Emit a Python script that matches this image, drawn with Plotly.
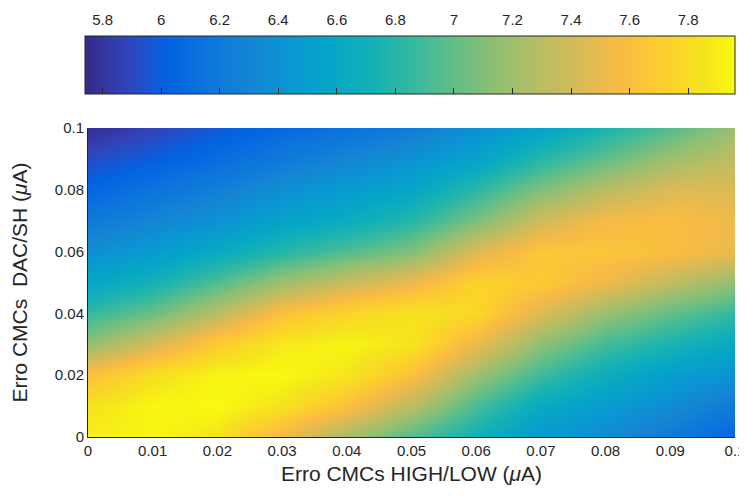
import plotly.graph_objects as go

# Grid coordinates (μA)
x_vals = [0, 0.01, 0.02, 0.03, 0.04, 0.05, 0.06, 0.07, 0.08, 0.09, 0.1]
y_vals = [0, 0.01, 0.02, 0.03, 0.04, 0.05, 0.06, 0.07, 0.08, 0.09, 0.1]

# Values, one list per y row (y = 0 ... 0.1)
z_y000 = [7.90, 7.93, 7.85, 7.52, 7.22, 6.95, 6.70, 6.45, 6.35, 6.20, 6.05]
z_y001 = [7.84, 7.94, 7.95, 7.84, 7.62, 7.30, 6.92, 6.62, 6.48, 6.35, 6.20]
z_y002 = [7.62, 7.82, 7.93, 7.95, 7.86, 7.62, 7.20, 6.88, 6.66, 6.50, 6.40]
z_y003 = [7.15, 7.42, 7.70, 7.88, 7.93, 7.85, 7.52, 7.14, 6.90, 6.75, 6.60]
z_y004 = [6.85, 7.02, 7.30, 7.62, 7.76, 7.85, 7.78, 7.45, 7.18, 7.00, 6.85]
z_y005 = [6.58, 6.72, 6.95, 7.20, 7.38, 7.52, 7.75, 7.68, 7.52, 7.32, 7.15]
z_y006 = [6.38, 6.48, 6.62, 6.80, 6.95, 7.10, 7.45, 7.66, 7.65, 7.60, 7.50]
z_y007 = [6.20, 6.30, 6.40, 6.55, 6.65, 6.80, 7.08, 7.40, 7.56, 7.60, 7.52]
z_y008 = [6.05, 6.15, 6.25, 6.38, 6.48, 6.58, 6.82, 7.10, 7.30, 7.45, 7.45]
z_y009 = [5.92, 6.00, 6.10, 6.20, 6.30, 6.40, 6.55, 6.80, 7.00, 7.20, 7.33]
z_y010 = [5.76, 5.88, 5.98, 6.07, 6.14, 6.22, 6.38, 6.55, 6.75, 6.95, 7.18]

z_rows = [z_y000, z_y001, z_y002, z_y003, z_y004, z_y005,
          z_y006, z_y007, z_y008, z_y009, z_y010]

c_min, c_max = 5.74, 7.96
cbar_ticks = [5.8, 6.0, 6.2, 6.4, 6.6, 6.8, 7.0, 7.2, 7.4, 7.6, 7.8]
cbar_labels = ["5.8", "6", "6.2", "6.4", "6.6", "6.8", "7", "7.2", "7.4", "7.6", "7.8"]
x_ticks = x_vals
x_labels = ["0", "0.01", "0.02", "0.03", "0.04", "0.05", "0.06", "0.07", "0.08", "0.09", "0.1"]
y_ticks = [0, 0.02, 0.04, 0.06, 0.08, 0.1]
y_labels = ["0", "0.02", "0.04", "0.06", "0.08", "0.1"]

parula = [
    (0.2081, 0.1663, 0.5292), (0.1959, 0.2645, 0.7279), (0.0117, 0.3875, 0.8820),
    (0.0498, 0.4586, 0.8641), (0.0793, 0.5200, 0.8312), (0.0343, 0.5966, 0.8199),
    (0.0228, 0.6535, 0.7768), (0.0843, 0.6928, 0.7062), (0.2178, 0.7250, 0.6193),
    (0.3953, 0.7459, 0.5244), (0.5709, 0.7485, 0.4494), (0.7184, 0.7411, 0.3905),
    (0.8507, 0.7299, 0.3360), (0.9739, 0.7314, 0.2666), (0.9880, 0.8066, 0.1794),
    (0.9589, 0.8949, 0.1132), (0.9763, 0.9831, 0.0538),
]
pos = [i * 4 / 63 for i in range(16)] + [1.0]
colorscale = [[p, "rgb(%d,%d,%d)" % tuple(round(255 * v) for v in c)] for p, c in zip(pos, parula)]

FONT = "Liberation Sans, Arial, sans-serif"
TXT = "#262626"
TICK_SIZE = 15
TITLE_SIZE = 21

# page has an 8px body margin, so the figure is sized/placed to compensate
OFF = 8
W, H = 747 - OFF, 497 - OFF
L, R, T, B = 85 - OFF, 12, 36 - OFF, 60
plot_w = W - L - R
plot_h = H - T - B
main_left = 88 - OFF
main_top = 128 - OFF
cbar_bottom = 94 - OFF

x_dom = [(main_left - L) / plot_w, 1.0]
y_dom = [0.0, (H - B - main_top) / plot_h]
y2_dom = [(H - B - cbar_bottom) / plot_h, 1.0]

fig = go.Figure()
fig.add_trace(go.Heatmap(
    x=x_vals, y=y_vals, z=z_rows,
    zmin=c_min, zmax=c_max, zsmooth="best",
    colorscale=colorscale,
    colorbar=dict(
        orientation="h",
        lenmode="fraction", len=1.0,
        thicknessmode="pixels", thickness=58,
        xanchor="left", x=0.0,
        yanchor="top", y=1.0,
        xpad=0, ypad=0,
        tickvals=cbar_ticks, showticklabels=False,
        ticks="inside", ticklen=6, tickcolor="#262626", tickwidth=1,
        outlinewidth=1, outlinecolor="#262626",
    ),
))
# invisible helper so the colour-bar label axis (x2) is drawn
fig.add_trace(go.Scatter(
    x=[c_min, c_max], y=[0.5, 0.5], xaxis="x2", yaxis="y2",
    mode="markers", marker=dict(opacity=0, size=1),
    hoverinfo="skip", showlegend=False,
))

fig.update_layout(
    width=W, height=H,
    margin=dict(l=L, r=R, t=T, b=B, autoexpand=False),
    paper_bgcolor="white", plot_bgcolor="rgba(0,0,0,0)",
    font=dict(family=FONT, size=TICK_SIZE, color=TXT),
    showlegend=False,
    xaxis=dict(
        domain=x_dom, anchor="y", automargin=False,
        range=[0, 0.1], tickvals=x_ticks, ticktext=x_labels,
        ticklabeloverflow="allow",
        showgrid=False, zeroline=False, ticks="",
        showline=True, linecolor="#262626", linewidth=1,
        tickfont=dict(family=FONT, size=TICK_SIZE, color=TXT),
        title=dict(text="Erro CMCs HIGH/LOW (<i>μ</i>A)", font=dict(family=FONT, size=TITLE_SIZE, color=TXT), standoff=8),
    ),
    yaxis=dict(
        domain=y_dom, anchor="x", automargin=False,
        range=[0, 0.1], tickvals=y_ticks, ticktext=y_labels,
        ticklabeloverflow="allow",
        showgrid=False, zeroline=False, ticks="",
        showline=True, linecolor="#262626", linewidth=1,
        tickfont=dict(family=FONT, size=TICK_SIZE, color=TXT),
        title=dict(text="Erro CMCs  DAC/SH (<i>μ</i>A)", font=dict(family=FONT, size=TITLE_SIZE, color=TXT), standoff=22),
    ),
    # axis used only to print the colour-bar tick labels above the bar
    xaxis2=dict(
        domain=[0, 1], anchor="y2", side="top", automargin=False,
        range=[c_min, c_max], tickvals=cbar_ticks, ticktext=cbar_labels,
        ticklabeloverflow="allow",
        showgrid=False, zeroline=False, showline=False, ticks="",
        ticklabelstandoff=7,
        tickfont=dict(family=FONT, size=TICK_SIZE, color=TXT),
        fixedrange=True,
    ),
    yaxis2=dict(
        domain=y2_dom, anchor="x2", automargin=False,
        visible=False, range=[0, 1], fixedrange=True,
    ),
)

fig.write_html("out.html")
